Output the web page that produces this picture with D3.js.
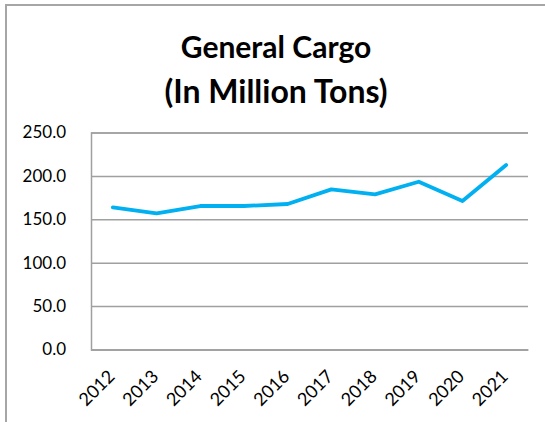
<!DOCTYPE html>
<html><head><meta charset="utf-8">
<script src="https://cdn.jsdelivr.net/npm/d3@7"></script>
<style>body{margin:0;background:#fff}svg{display:block}</style>
</head><body>
<script>
const years = ["2012","2013","2014","2015","2016","2017","2018","2019","2020","2021"];
const cargo = [163.8, 156.9, 165.3, 165.3, 167.6, 184.5, 178.8, 193.3, 171.0, 212.5];
const yTicks = [0, 50, 100, 150, 200, 250];
const titleLines = ["General Cargo", "(In Million Tons)"];
const titleSizes = [30, 32];
const titleBaselines = [58, 103];

const W = 545, H = 422;
const font = "Lato, 'Open Sans', sans-serif";
const svg = d3.select("body").append("svg").attr("width", W).attr("height", H);
svg.append("rect").attr("width", W).attr("height", H).attr("fill", "#fff");
svg.append("rect").attr("x", 6).attr("y", 5).attr("width", 600).attr("height", 500)
  .attr("fill", "none").attr("stroke", "#a6a6a6").attr("stroke-width", 2);

const m = {left: 91, right: 528, top: 132.5, bottom: 349.5};
const x = d3.scaleBand().domain(years).range([m.left, m.right]);
const y = d3.scaleLinear().domain([0, 250]).range([m.bottom, m.top]);

// title
svg.append("g").selectAll("text").data(titleLines).join("text")
  .attr("x", 276).attr("y", (d, i) => titleBaselines[i])
  .attr("text-anchor", "middle").attr("font-family", font).attr("font-weight", "bold")
  .attr("font-size", (d, i) => titleSizes[i]).attr("fill", "#000").text(d => d);

// gridlines
const yAxis = d3.axisLeft(y).tickValues(yTicks).tickSize(-(m.right - m.left)).tickFormat(d3.format(".1f")).tickPadding(25);
const gy = svg.append("g").attr("transform", `translate(${m.left},0)`).call(yAxis);
gy.select(".domain").attr("stroke", "#a0a0a0").attr("stroke-width", 1.5);
gy.selectAll(".tick line").attr("stroke", "#a0a0a0").attr("stroke-width", 1.5);
gy.selectAll(".tick text").attr("font-family", font).attr("font-size", 17).attr("fill", "#000");

// x axis
const xAxis = d3.axisBottom(x).tickSize(0).tickPadding(0);
const gx = svg.append("g").attr("transform", `translate(0,${m.bottom})`).call(xAxis);
gx.select(".domain").attr("stroke", "#a0a0a0").attr("stroke-width", 1.5);
gx.selectAll(".tick text")
  .attr("font-family", font).attr("font-size", 18).attr("fill", "#000")
  .attr("text-anchor", "end").attr("dy", 0).attr("y", 0)
  .attr("transform", "translate(3,28) rotate(-45)");

// line
const line = d3.line().x(d => x(d.year) + x.bandwidth() / 2).y(d => y(d.v));
svg.append("path").datum(years.map((yr, i) => ({year: yr, v: cargo[i]})))
  .attr("d", line).attr("fill", "none").attr("stroke", "#00B0F0")
  .attr("stroke-width", 3.8).attr("stroke-linejoin", "round").attr("stroke-linecap", "round");
</script>
</body></html>
